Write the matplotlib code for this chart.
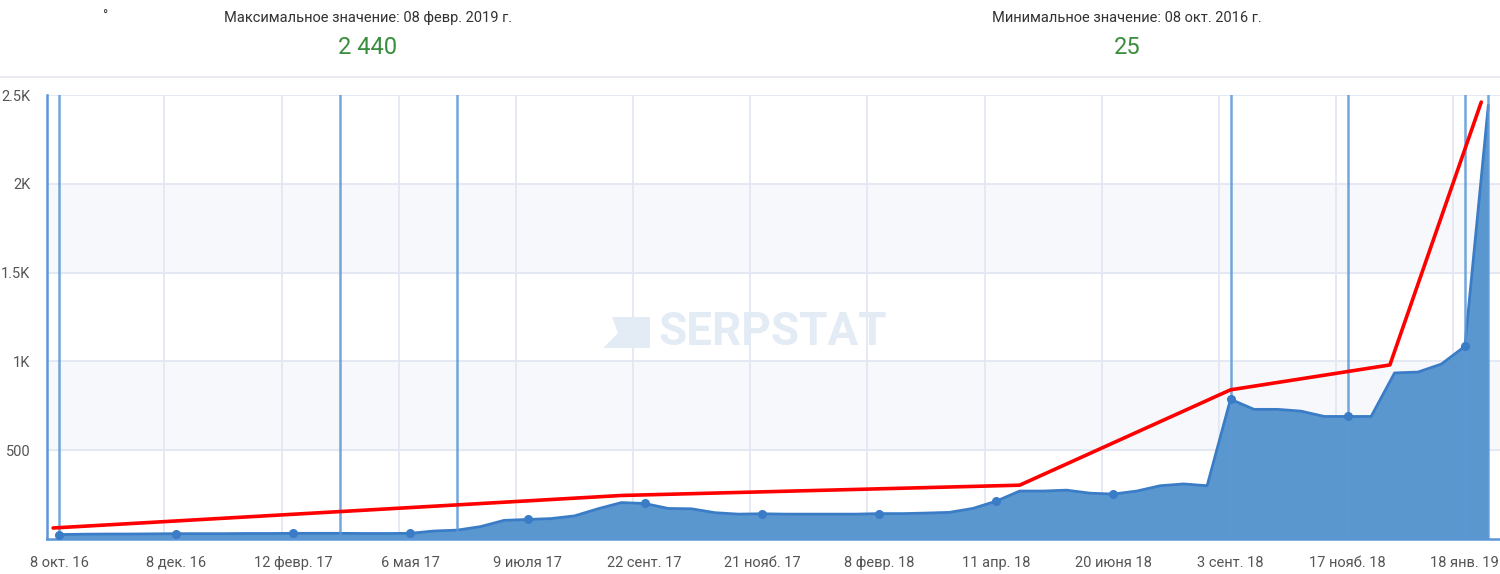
import matplotlib.pyplot as plt
import numpy as np
from matplotlib.lines import Line2D
from matplotlib.patches import Polygon

plt.rcParams['font.family'] = ['Roboto', 'DejaVu Sans']

# data (roughly every two weeks, category axis)
values = [25, 27, 28, 28, 29, 30, 30, 30, 31, 31,
          32, 32, 32, 31, 31, 32, 45, 50, 70, 105,
          110, 115, 130, 170, 205, 200, 172, 170, 148, 140,
          142, 140, 140, 140, 140, 143, 143, 146, 150, 172,
          213, 270, 270, 275, 258, 253, 270, 300, 310, 300,
          787, 730, 730, 720, 690, 690, 690, 935, 940, 985,
          1085, 2440]
tick_labels = ['8 окт. 16', '8 дек. 16', '12 февр. 17', '6 мая 17', '9 июля 17',
               '22 сент. 17', '21 нояб. 17', '8 февр. 18', '11 апр. 18', '20 июня 18',
               '3 сент. 18', '17 нояб. 18', '18 янв. 19']
event_idx = [0, 12, 17, 50, 55, 60, 61]
trend_x = [-0.25, 24, 41, 50, 56.8, 60.7]
trend_y = [62, 245, 303, 840, 980, 2460]

x = np.arange(len(values))
tick_pos = x[::5]

fig = plt.figure(figsize=(15, 5.74), dpi=100)
ax = fig.add_axes([47/1500, 35/574, 1453/1500, 444/574])

# shaded bands + grid
ax.axhspan(500, 1000, color='#f7f8fc', zorder=0)
ax.axhspan(1500, 2000, color='#f7f8fc', zorder=0)
for yv in [500, 1000, 1500, 2000, 2500]:
    ax.axhline(yv, color='#e3e7f2', lw=1.3, zorder=1)
for xv in np.arange(4.5, 60, 5):
    ax.axvline(xv, color='#e3e7f2', lw=1.3, zorder=1)

ax.fill_between(x, values, color='#5b97cf', lw=0, zorder=2)
ax.plot(x, values, color='#3b7cc6', lw=2, zorder=3)
ax.plot(tick_pos, np.array(values)[tick_pos], 'o', color='#3b7cc6', ms=5.5, zorder=4)

for i in event_idx:
    ax.axvline(i, color='#5a97d6', lw=1.8, alpha=0.85, zorder=3)

ax.plot(trend_x, trend_y, color='#ff0000', lw=2.6, solid_capstyle='round', zorder=5)

# watermark (logo + name)
def px(xp, yp):
    return ((xp - 47) / 1453, (539 - yp) / 444)

wm = '#e3ebf5'
ax.text(px(773, 332)[0], px(773, 332)[1], 'SERPSTAT', transform=ax.transAxes,
        ha='center', va='center', fontsize=33, fontweight='bold', color=wm, zorder=1.5)
ax.add_patch(Polygon([px(612, 317), px(650, 317), px(650, 348), px(603, 348), px(618, 333)],
                     closed=True, transform=ax.transAxes, color=wm, lw=0, zorder=1.5))

ax.set_xlim(-0.51, 61.5)
ax.set_ylim(0, 2500)
ax.set_xticks(tick_pos)
ax.set_xticklabels(tick_labels)
ax.set_yticks([500, 1000, 1500, 2000, 2500])
ax.set_yticklabels(['500', '1K', '1.5K', '2K', '2.5K'])
ax.tick_params(length=0, labelsize=10.5, labelcolor='#555555')
ax.tick_params(axis='x', pad=12)
ax.tick_params(axis='y', pad=12)

for s in ['top', 'right']:
    ax.spines[s].set_visible(False)
for s in ['left', 'bottom']:
    ax.spines[s].set_color('#5a97d6')
    ax.spines[s].set_linewidth(1.8)

# header
fig.text(368/1500, 1 - 18/574, 'Максимальное значение: 08 февр. 2019 г.', ha='center', va='center',
         fontsize=10.5, color='#333333')
fig.text(368/1500, 1 - 47/574, '2 440', ha='center', va='center', fontsize=17, color='#388e3c')
fig.text(1127/1500, 1 - 18/574, 'Минимальное значение: 08 окт. 2016 г.', ha='center', va='center',
         fontsize=10.5, color='#333333')
fig.text(1127/1500, 1 - 47/574, '25', ha='center', va='center', fontsize=17, color='#388e3c')
fig.text(105/1500, 1 - 17/574, '°', ha='center', va='center', fontsize=10, color='#333333')
fig.add_artist(Line2D([0, 1], [1 - 77/574, 1 - 77/574], color='#e6e8ef', lw=1.2))

plt.savefig('out.png', dpi=100)
